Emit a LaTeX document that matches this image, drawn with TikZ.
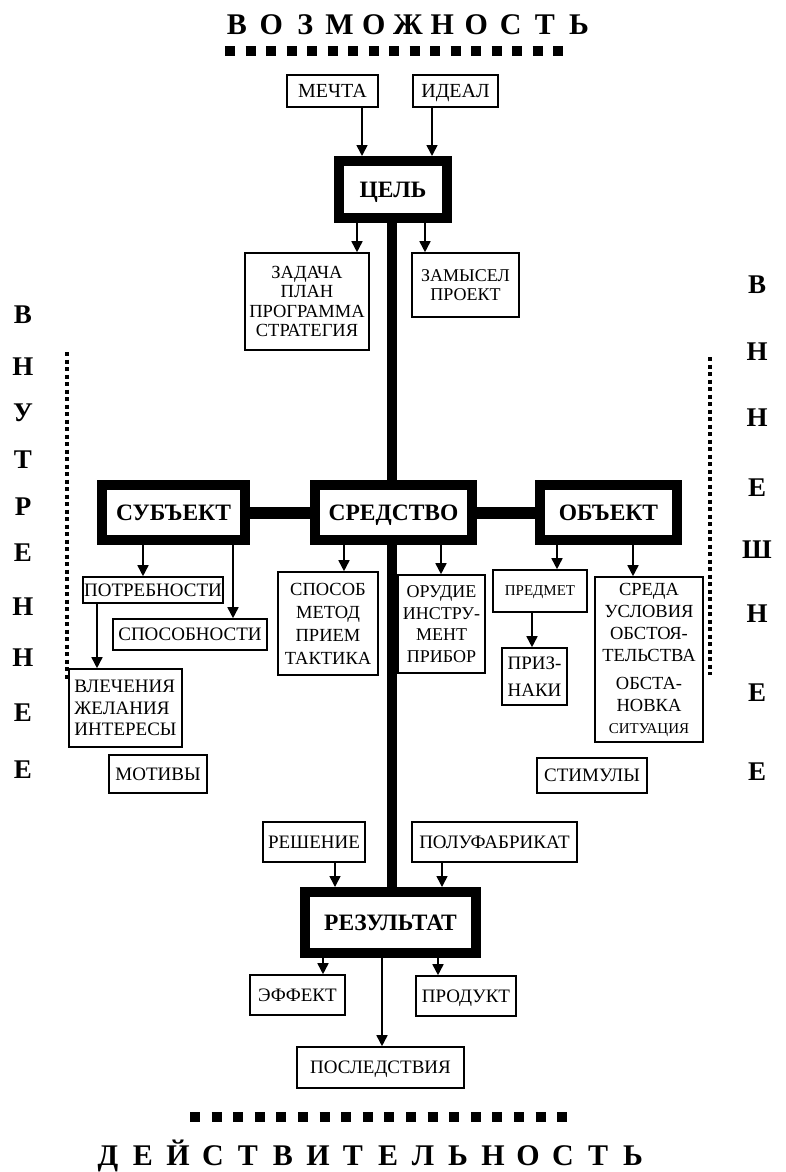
\documentclass[tikz,border=0pt]{standalone}
\usepackage{fontspec}
\setmainfont{Liberation Serif}
\usetikzlibrary{arrows.meta}

\begin{document}
\begin{tikzpicture}[x=1pt, y=-1pt,
	every node/.style={font=\fontsize{19}{21}\selectfont},
	box/.style={draw, line width=1.6pt, inner sep=0pt, align=center},
	oneline/.style={box, text depth=0pt},
	mainbox/.style={draw, line width=10pt, inner sep=0pt, text depth=0pt, font=\fontsize{23.5}{26}\selectfont\bfseries},
	arr/.style={line width=1.6pt, -{Triangle[width=11pt,length=11pt]}},
	spine/.style={line width=10pt},
	bar/.style={line width=12pt},
	sqline/.style={line width=10pt},
	dotline/.style={line width=4pt, dash pattern=on 4pt off 3.5pt},
	bigletter/.style={font=\fontsize{30}{30}\selectfont\bfseries, anchor=base, inner sep=0pt},
	sideletter/.style={font=\fontsize{27}{27}\selectfont\bfseries, inner sep=0pt}]
	\useasboundingbox (0,0) rectangle (785,1172);
	
	% --- TOP: POSSIBILITY ---
	\foreach \ch [count=\i] in {В,О,З,М,О,Ж,Н,О,С,Т,Ь}
		\node[bigletter] (top-\i) at ({237+(\i-1)*34.2},35) {\ch};
	\draw[sqline, dash pattern=on 10pt off 10.5pt] (225,51) -- (564,51);
	
	% --- GOAL ---
	\node[oneline, minimum width=91pt, minimum height=32pt, font=\fontsize{20}{22}\selectfont] (mechta) at (332.5,91) {МЕЧТА};
	\node[oneline, minimum width=85pt, minimum height=32pt, font=\fontsize{20}{22}\selectfont] (ideal) at (455.5,91) {ИДЕАЛ};
	\node[mainbox, minimum width=108pt, minimum height=57pt] (cel) at (393,189.5) {ЦЕЛЬ};
	\draw[arr] (mechta.south -| 362,0) -- (cel.north -| 362,0);
	\draw[arr] (ideal.south -| 432,0) -- (cel.north -| 432,0);
	
	\node[box, minimum width=124pt, minimum height=97pt, font=\fontsize{18.5}{19.5}\selectfont] (zadacha) at (307,301.5)
		{ЗАДАЧА\\ПЛАН\\ПРОГРАММА\\СТРАТЕГИЯ};
	\node[box, minimum width=107pt, minimum height=64pt, font=\fontsize{18}{19}\selectfont] (zamysel) at (465.5,285)
		{ЗАМЫСЕЛ\\ПРОЕКТ};
	\draw[arr] (cel.south -| 357,0) -- (zadacha.north -| 357,0);
	\draw[arr] (cel.south -| 425,0) -- (zamysel.north -| 425,0);
	
	% --- MEANS, SUBJECT, OBJECT ---
	\node[mainbox, minimum width=143pt, minimum height=55pt] (subject) at (173.5,512.5) {СУБЪЕКТ};
	\node[mainbox, minimum width=157pt, minimum height=55pt] (sredstvo) at (393.5,512.5) {СРЕДСТВО};
	\node[mainbox, minimum width=137pt, minimum height=55pt] (object) at (608.5,512.5) {ОБЪЕКТ};
	\draw[bar] (subject.east) -- (sredstvo.west);
	\draw[bar] (sredstvo.east) -- (object.west);
	
	% Spine
	\draw[spine] (cel.south -| 392,0) -- (sredstvo.north -| 392,0);
	
	% Subject side
	\node[oneline, minimum width=140pt, minimum height=26pt] (potreb) at (153,590) {ПОТРЕБНОСТИ};
	\node[oneline, minimum width=154pt, minimum height=31pt] (sposobn) at (190,634.5) {СПОСОБНОСТИ};
	\node[box, minimum width=113pt, minimum height=78pt, align=left, font=\fontsize{19}{21.5}\selectfont] (vlech) at (125.5,708)
		{ВЛЕЧЕНИЯ\\ЖЕЛАНИЯ\\ИНТЕРЕСЫ};
	\node[oneline, minimum width=98pt, minimum height=38pt] (motiv) at (158,774) {МОТИВЫ};
	\draw[arr] (subject.south -| 143,0) -- (potreb.north -| 143,0);
	\draw[arr] (subject.south -| 233,0) -- (sposobn.north -| 233,0);
	\draw[arr] (potreb.south -| 97,0) -- (vlech.north -| 97,0);
	
	% Means side
	\node[box, minimum width=100pt, minimum height=103pt, font=\fontsize{18.5}{23}\selectfont] (sposob) at (328,623.5)
		{СПОСОБ\\МЕТОД\\ПРИЕМ\\ТАКТИКА};
	\node[box, minimum width=87pt, minimum height=98pt, font=\fontsize{18}{21.5}\selectfont] (orudie) at (441.5,624)
		{ОРУДИЕ\\ИНСТРУ-\\МЕНТ\\ПРИБОР};
	\draw[arr] (sredstvo.south -| 344,0) -- (sposob.north -| 344,0);
	\draw[arr] (sredstvo.south -| 441,0) -- (orudie.north -| 441,0);
	
	% Object side
	\node[oneline, minimum width=94pt, minimum height=42pt, font=\fontsize{15}{17}\selectfont] (predmet) at (540,591) {ПРЕДМЕТ};
	\node[box, minimum width=65pt, minimum height=57pt, font=\fontsize{19}{27}\selectfont] (priznaki) at (534.5,676.5)
		{ПРИЗ-\\НАКИ};
	\node[box, minimum width=108pt, minimum height=165pt, font=\fontsize{18.5}{22}\selectfont] (sreda) at (649,659.5)
		{СРЕДА\\УСЛОВИЯ\\ОБСТОЯ-\\ТЕЛЬСТВА\\[6pt]ОБСТА-\\НОВКА\\{\fontsize{15}{22}\selectfont СИТУАЦИЯ}};
	\node[oneline, minimum width=110pt, minimum height=35pt] (stimul) at (592,775.5) {СТИМУЛЫ};
	\draw[arr] (object.south -| 557,0) -- (predmet.north -| 557,0);
	\draw[arr] (object.south -| 633,0) -- (sreda.north -| 633,0);
	\draw[arr] (predmet.south -| 532,0) -- (priznaki.north -| 532,0);
	
	% --- RESULT ---
	\node[oneline, minimum width=102pt, minimum height=40pt] (reshenie) at (314,842) {РЕШЕНИЕ};
	\node[oneline, minimum width=165pt, minimum height=40pt] (polufab) at (494.5,842) {ПОЛУФАБРИКАТ};
	\node[mainbox, minimum width=171pt, minimum height=61pt] (result) at (390.5,922.5) {РЕЗУЛЬТАТ};
	\draw[spine] (sredstvo.south -| 392,0) -- (result.north -| 392,0);
	\draw[arr] (reshenie.south -| 335,0) -- (result.north -| 335,0);
	\draw[arr] (polufab.south -| 442,0) -- (result.north -| 442,0);
	
	\node[oneline, minimum width=95pt, minimum height=40pt] (effekt) at (297.5,995) {ЭФФЕКТ};
	\node[oneline, minimum width=100pt, minimum height=40pt] (produkt) at (466,996) {ПРОДУКТ};
	\node[oneline, minimum width=167pt, minimum height=41pt] (posled) at (380.5,1067.5) {ПОСЛЕДСТВИЯ};
	\draw[arr] (result.south -| 323,0) -- (effekt.north -| 323,0);
	\draw[arr] (result.south -| 438,0) -- (produkt.north -| 438,0);
	\draw[arr] (result.south -| 382,0) -- (posled.north -| 382,0);
	
	% --- SIDES: INNER / OUTER ---
	\foreach \ch/\yy [count=\i] in {В/315,Н/367,У/413,Т/460,Р/507,Е/553,Н/607,Н/658,Е/713,Е/770}
		\node[sideletter] (inner-\i) at (23,\yy) {\ch};
	\draw[dotline] (67,352) -- (67,680);
	
	\foreach \ch/\yy [count=\i] in {В/285,Н/352,Н/418,Е/488,Ш/550,Н/614,Е/693,Е/772}
		\node[sideletter] (outer-\i) at (757,\yy) {\ch};
	\draw[dotline] (710,357) -- (710,675);
	
	% --- BOTTOM: REALITY ---
	\draw[sqline, dash pattern=on 10pt off 11.6pt] (190,1117) -- (567,1117);
	\foreach \ch [count=\i] in {Д,Е,Й,С,Т,В,И,Т,Е,Л,Ь,Н,О,С,Т,Ь}
		\node[bigletter] (bot-\i) at ({108+(\i-1)*35},1165) {\ch};
\end{tikzpicture}
\end{document}
